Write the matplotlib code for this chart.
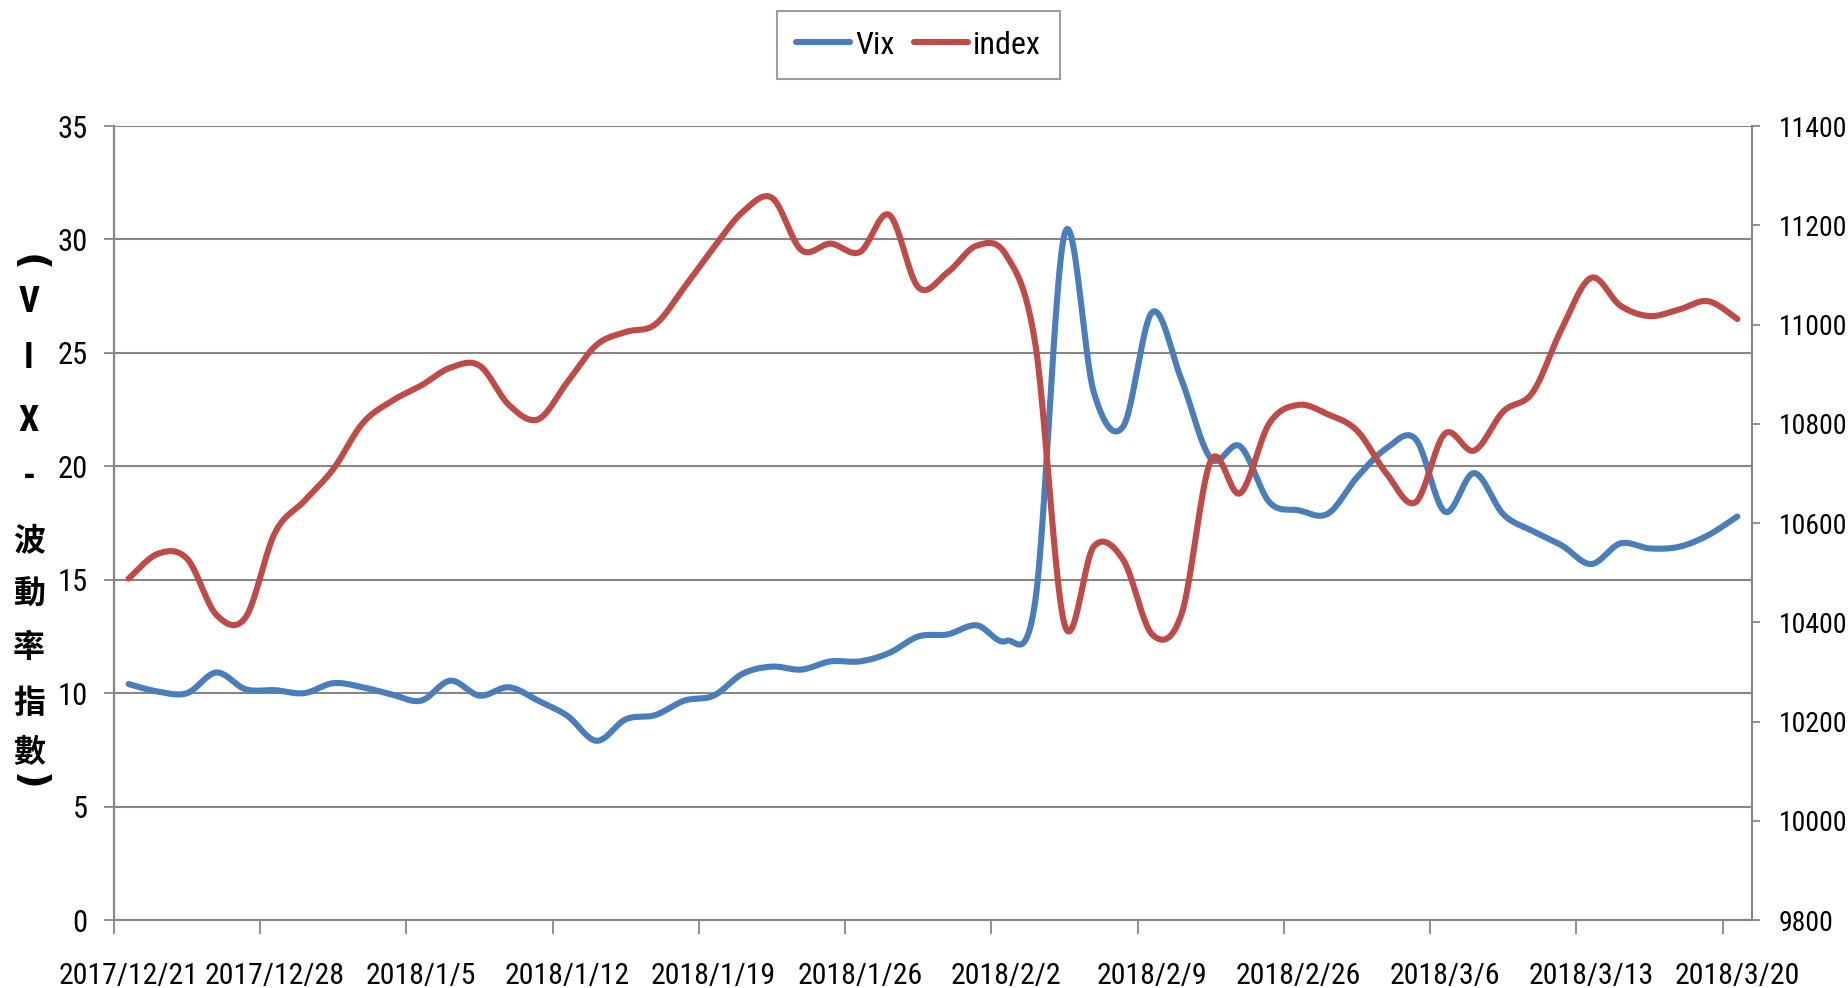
import numpy as np
import matplotlib
matplotlib.use('Agg')
import matplotlib.pyplot as plt
from matplotlib import font_manager

# trading-day labels shown every 5th point
tick_labels = ['2017/12/21', '2017/12/28', '2018/1/5', '2018/1/12', '2018/1/19', '2018/1/26',
               '2018/2/2', '2018/2/9', '2018/2/26', '2018/3/6', '2018/3/13', '2018/3/20']

vix = [10.4, 10.07, 10.0, 10.91, 10.17, 10.13, 10.0, 10.44, 10.26, 9.94,
       9.67, 10.55, 9.89, 10.26, 9.67, 9.0, 7.9, 8.85, 9.03, 9.67,
       9.89, 10.86, 11.17, 11.04, 11.4, 11.4, 11.77, 12.5, 12.59, 12.99,
       12.3, 14.1, 30.25, 23.25, 21.75, 26.8, 23.8, 20.34, 20.88, 18.42,
       18.06, 17.91, 19.52, 20.79, 21.2, 18.0, 19.7, 17.88, 17.15, 16.51,
       15.69, 16.6, 16.38, 16.45, 16.96, 17.79]

index = [10488, 10538, 10528, 10415, 10410, 10580, 10644, 10709, 10801, 10846,
         10877, 10913, 10917, 10838, 10809, 10884, 10959, 10985, 11000, 11075,
         11155, 11227, 11255, 11150, 11163, 11146, 11221, 11075, 11105, 11159,
         11140, 10960, 10395, 10553, 10526, 10375, 10417, 10726, 10660, 10801,
         10838, 10819, 10786, 10700, 10642, 10780, 10746, 10825, 10863, 10992,
         11094, 11038, 11017, 11030, 11047, 11011]

names = {f.name for f in font_manager.fontManager.ttflist}
narrow = 'DejaVu Sans'
for cand in ['Liberation Sans Narrow', 'Roboto Condensed', 'Open Sans Condensed']:
    if cand in names:
        narrow = cand
        break
plt.rcParams['font.family'] = [narrow, 'DejaVu Sans']


def smooth(y, steps=24):
    # excel style smoothed line (bezier through points, catmull-rom handles)
    y = np.asarray(y, dtype=float)
    n = len(y)
    x = np.arange(n, dtype=float)
    px = np.concatenate([[x[0]], x, [x[-1]]])
    py = np.concatenate([[y[0]], y, [y[-1]]])
    xs, ys = [], []
    t = np.linspace(0, 1, steps, endpoint=False)
    for i in range(n - 1):
        p0 = np.array([px[i + 1], py[i + 1]])
        p3 = np.array([px[i + 2], py[i + 2]])
        c1 = p0 + (p3 - np.array([px[i], py[i]])) / 6
        c2 = p3 - (np.array([px[i + 3], py[i + 3]]) - p0) / 6
        b = ((1 - t) ** 3)[:, None] * p0 + (3 * (1 - t) ** 2 * t)[:, None] * c1 \
            + (3 * (1 - t) * t ** 2)[:, None] * c2 + (t ** 3)[:, None] * p3
        xs.append(b[:, 0])
        ys.append(b[:, 1])
    xs.append([x[-1]])
    ys.append([y[-1]])
    return np.concatenate(xs), np.concatenate(ys)


blue = '#4A7EBB'
red = '#BE4B48'
gray = '#868686'

fig = plt.figure(figsize=(18.49, 9.88), dpi=100)
ax = fig.add_axes([114 / 1849, 1 - 920 / 988, (1752 - 114) / 1849, (920 - 126) / 988])
ax2 = ax.twinx()

sx, sy = smooth(vix)
l1, = ax.plot(sx, sy, color=blue, lw=4.4, solid_capstyle='round', label='Vix')
sx, sy = smooth(index)
l2, = ax2.plot(sx, sy, color=red, lw=4.4, solid_capstyle='round', label='index')

n = len(vix)
ax.set_xlim(-0.5, n - 0.5)
ax.set_ylim(0, 35)
ax.set_yticks(np.arange(0, 36, 5))
ax2.set_ylim(9800, 11400)
ax2.set_yticks(np.arange(9800, 11401, 200))

# tick marks at category boundaries, labels on the points
ax.set_xticks(np.arange(-0.5, n - 1, 5))
ax.set_xticklabels([])
ax.set_xticks(np.arange(0, n, 5), minor=True)
ax.set_xticklabels(tick_labels, minor=True, fontsize=21.5)
ax.tick_params(axis='x', which='major', direction='out', length=10, width=1.3, color=gray)
ax.tick_params(axis='x', which='minor', length=0, pad=30)

ax.tick_params(axis='y', direction='out', length=7, width=1.3, color=gray, labelsize=22, pad=12)
ax2.tick_params(axis='y', direction='out', length=6, width=1.3, color=gray, labelsize=20, pad=13)

ax.yaxis.grid(True, color=gray, lw=1.5)
ax.set_axisbelow(True)

for a in (ax, ax2):
    a.spines['top'].set_visible(False)
    for s in ('left', 'right', 'bottom'):
        a.spines[s].set_color(gray)
        a.spines[s].set_linewidth(1.5)

# stacked vertical axis title, brackets turned sideways
title_chars = ['(', 'V', 'I', 'X', '-', '波', '動', '率', '指', '數', ')']
title_y = [263, 302, 358, 421, 477, 542, 595, 648, 704, 753, 782]
for ch, yp in zip(title_chars, title_y):
    if ch in '()':
        fig.text(29 / 1849, 1 - yp / 988, ch, ha='center', va='center', fontsize=28, fontweight='bold',
                 rotation=-90, family=['DejaVu Sans'])
    elif ch.isascii():
        fig.text(29 / 1849, 1 - yp / 988, ch, ha='center', va='center', fontsize=26, fontweight='bold',
                 family=[narrow, 'DejaVu Sans'])
    else:
        fig.text(29 / 1849, 1 - yp / 988, ch, ha='center', va='center', fontsize=23, fontweight='bold',
                 family=['Noto Sans CJK TC', 'DejaVu Sans'])

leg = fig.legend(handles=[l1, l2], loc='center', bbox_to_anchor=(918.5 / 1849, 1 - 45 / 988), ncol=2,
                 fontsize=23, frameon=True, fancybox=False, handlelength=1.7, handletextpad=0.15,
                 columnspacing=0.6, borderpad=0.6)
leg.get_frame().set_edgecolor(gray)
leg.get_frame().set_linewidth(1.5)

fig.savefig('out.png', dpi=100)
